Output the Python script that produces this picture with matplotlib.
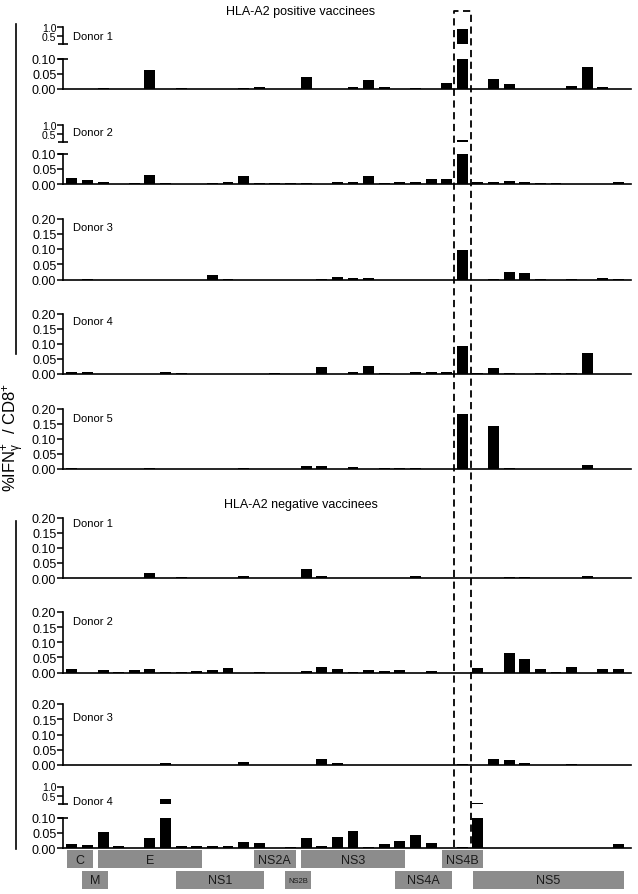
import matplotlib
matplotlib.use("Agg")
import matplotlib.pyplot as plt
import matplotlib.transforms as mtransforms
from matplotlib.lines import Line2D
from matplotlib.patches import Rectangle

plt.rcParams['font.family'] = ['Liberation Sans', 'DejaVu Sans']
plt.rcParams['mathtext.fontset'] = 'custom'
plt.rcParams['mathtext.rm'] = 'Liberation Sans'
plt.rcParams['mathtext.it'] = 'Liberation Sans:italic'
plt.rcParams['mathtext.bf'] = 'Liberation Sans:bold'

# Data: peptide pools 0..35, %IFNg+ of CD8+ per donor
pools = list(range(36))
highlight_pool = 25

pos_donor1 = [0, 0, 0.002, 0, 0, 0.061, 0, 0.004, 0, 0,
              0, 0.004, 0.008, 0, 0, 0.039, 0, 0, 0.008, 0.030,
              0.008, 0, 0.002, 0, 0.020, 0.85, 0, 0.034, 0.015, 0,
              0, 0, 0.011, 0.071, 0.008, 0]
pos_donor2 = [0.020, 0.013, 0.005, 0, 0.002, 0.031, 0.003, 0, 0, 0.002,
              0.005, 0.025, 0.002, 0.003, 0.002, 0.002, 0, 0.005, 0.008, 0.025,
              0.002, 0.005, 0.008, 0.018, 0.018, 0.18, 0.008, 0.005, 0.010, 0.008,
              0.004, 0.002, 0, 0, 0, 0.005]
pos_donor3 = [0, 0.002, 0, 0, 0, 0, 0, 0, 0, 0.015,
              0.001, 0, 0, 0, 0, 0, 0.001, 0.008, 0.006, 0.005,
              0, 0, 0, 0, 0, 0.097, 0, 0.001, 0.025, 0.020,
              0.002, 0, 0.002, 0, 0.005, 0.001]
pos_donor4 = [0.008, 0.005, 0.001, 0, 0, 0.001, 0.005, 0.002, 0.001, 0.001,
              0.001, 0.001, 0.001, 0.004, 0.001, 0.001, 0.022, 0.001, 0.006, 0.025,
              0.004, 0, 0.006, 0.006, 0.006, 0.093, 0.002, 0.021, 0.003, 0,
              0.003, 0.003, 0.004, 0.071, 0, 0]
pos_donor5 = [0.003, 0, 0, 0, 0, 0.002, 0, 0, 0, 0,
              0, 0.002, 0, 0, 0, 0.010, 0.009, 0, 0.007, 0,
              0.004, 0.004, 0.004, 0, 0, 0.183, 0, 0.142, 0.004, 0,
              0, 0, 0, 0.012, 0, 0]
neg_donor1 = [0, 0.001, 0, 0.001, 0, 0.015, 0, 0.002, 0, 0,
              0, 0.008, 0, 0, 0, 0.031, 0.007, 0, 0, 0,
              0.001, 0, 0.008, 0, 0.001, 0, 0, 0, 0.003, 0.002,
              0, 0, 0, 0.005, 0, 0]
neg_donor2 = [0.010, 0, 0.007, 0.003, 0.007, 0.012, 0.003, 0.003, 0.005, 0.007,
              0.016, 0, 0.003, 0, 0, 0.006, 0.019, 0.010, 0.001, 0.008,
              0.005, 0.007, 0, 0.006, 0, 0, 0.015, 0, 0.064, 0.044,
              0.010, 0.003, 0.018, 0, 0.011, 0.011]
neg_donor3 = [0, 0, 0, 0, 0, 0, 0.005, 0, 0, 0.001,
              0, 0.010, 0, 0, 0, 0, 0.021, 0.008, 0, 0,
              0, 0, 0, 0, 0, 0.004, 0, 0.021, 0.018, 0.008,
              0, 0, 0.002, 0, 0, 0.001]
neg_donor4 = [0.014, 0.010, 0.054, 0.006, 0, 0.032, 0.35, 0.005, 0.005, 0.008,
              0.008, 0.019, 0.016, 0.001, 0.003, 0.034, 0.006, 0.035, 0.055, 0.002,
              0.013, 0.022, 0.041, 0.017, 0.001, 0.003, 0.15, 0, 0, 0.001,
              0, 0, 0, 0, 0, 0.012]

donor_labels = ["Donor 1", "Donor 2", "Donor 3", "Donor 4", "Donor 5",
                "Donor 1", "Donor 2", "Donor 3", "Donor 4"]
donor_values = [pos_donor1, pos_donor2, pos_donor3, pos_donor4, pos_donor5,
                neg_donor1, neg_donor2, neg_donor3, neg_donor4]
broken = [True, True, False, False, False, False, False, False, True]

genes = ["C", "M", "E", "NS1", "NS2A", "NS2B", "NS3", "NS4A", "NS4B", "NS5"]
gene_start = [0, 1, 2, 7, 12, 14, 15, 21, 24, 26]
gene_end = [1, 2, 8, 12, 14, 15, 21, 24, 26, 35]
gene_row = [0, 1, 0, 1, 0, 1, 0, 1, 0, 1]

# Layout (pixels from top of a 638x895 figure)
W, H = 638, 895
LEFT, RIGHT = 63.3, 631
XLIM = (-0.545, 35.8)
lower_px = [(59.5, 90), (154.5, 185), (219.5, 280.5), (314.5, 375), (409.5, 470),
            (518.5, 579), (613, 673.5), (705, 766), (818.5, 849)]
upper_px = {0: (27.5, 45), 1: (125.5, 143), 8: (787.5, 805)}
label_y = [37, 133, 228, 322, 419, 524, 622, 718, 802]

fig = plt.figure(figsize=(W / 100, H / 100), dpi=100)


def frac(top, bottom):
    return [LEFT / W, 1 - bottom / H, (RIGHT - LEFT) / W, (bottom - top) / H]


def style_left(ax, size=9):
    for s in ["top", "right"]:
        ax.spines[s].set_visible(False)
    ax.spines["left"].set_linewidth(1.2)
    ax.spines["bottom"].set_linewidth(1.2)
    ax.set_xticks([])
    ax.tick_params(axis="y", direction="out", length=4, width=1.1,
                   labelsize=size, pad=1)
    ax.set_xlim(*XLIM)


axes = []
for i, vals in enumerate(donor_values):
    top, bottom = lower_px[i]
    ax = fig.add_axes(frac(top, bottom))
    ax.bar(pools, vals, width=0.7, color="black")
    style_left(ax)
    if broken[i]:
        ax.set_ylim(0, 0.1)
        ax.set_yticks([0, 0.05, 0.10])
        ax.plot(0, 1, marker="_", ms=7, mew=1.2, color="k",
                transform=ax.transAxes, clip_on=False)
        ut, ub = upper_px[i]
        axu = fig.add_axes(frac(ut, ub))
        axu.bar(pools, vals, width=0.7, color="black")
        style_left(axu, size=7.5)
        axu.spines["bottom"].set_visible(False)
        axu.set_ylim(0.1, 1.0)
        axu.set_yticks([0.5, 1.0])
        axu.yaxis.set_major_formatter("{x:.1f}")
        axu.plot(0, 0, marker="_", ms=7, mew=1.2, color="k",
                 transform=axu.transAxes, clip_on=False)
    else:
        ax.set_ylim(0, 0.2)
        ax.set_yticks([0, 0.05, 0.10, 0.15, 0.20])
    ax.yaxis.set_major_formatter("{x:.2f}")
    fig.text(73 / W, 1 - label_y[i] / H, donor_labels[i], fontsize=8,
             ha="left", va="center")
    axes.append(ax)

# Gene map below the last panel
axg = fig.add_axes(frac(850, 891))
axg.set_xlim(*XLIM)
axg.set_ylim(2, 0)
axg.axis("off")
for name, s, e, r in zip(genes, gene_start, gene_end, gene_row):
    axg.add_patch(Rectangle((s - 0.33, r + 0.06), e - s + 0.66, 0.88,
                            facecolor="#8c8c8c", edgecolor="none"))
    axg.text((s + e) / 2, r + 0.52, name, ha="center", va="center",
             fontsize=5.5 if name == "NS2B" else 9, color="#1a1a1a")

# Group titles
fig.text(301 / W, 1 - 12 / H, "HLA-A2 positive vaccinees", fontsize=9,
         ha="center", va="center")
fig.text(301 / W, 1 - 505 / H, "HLA-A2 negative vaccinees", fontsize=9,
         ha="center", va="center")

# Group brackets and y label
fig.add_artist(Line2D([16 / W, 16 / W], [1 - 25 / H, 1 - 355 / H],
                      transform=fig.transFigure, color="k", lw=1.2))
fig.add_artist(Line2D([16 / W, 16 / W], [1 - 522 / H, 1 - 850 / H],
                      transform=fig.transFigure, color="k", lw=1.2))
fig.text(14 / W, 1 - 437 / H, r"%IFN$_{\mathregular{γ}}^{+}$  / CD8$^{+}$",
         rotation=90, fontsize=12, ha="center", va="center")

# Dashed box around the highlighted pool
trans = mtransforms.blended_transform_factory(axes[0].transData, fig.transFigure)
x0, x1 = highlight_pool - 0.55, highlight_pool + 0.55
y_top, y_bot = 1 - 12 / H, 1 - 848 / H
fig.add_artist(Line2D([x0, x0, x1, x1], [y_bot, y_top, y_top, y_bot],
                      transform=trans, color="k", lw=1.3, ls=(0, (4, 2.5))))

fig.savefig("out.png", dpi=100)
